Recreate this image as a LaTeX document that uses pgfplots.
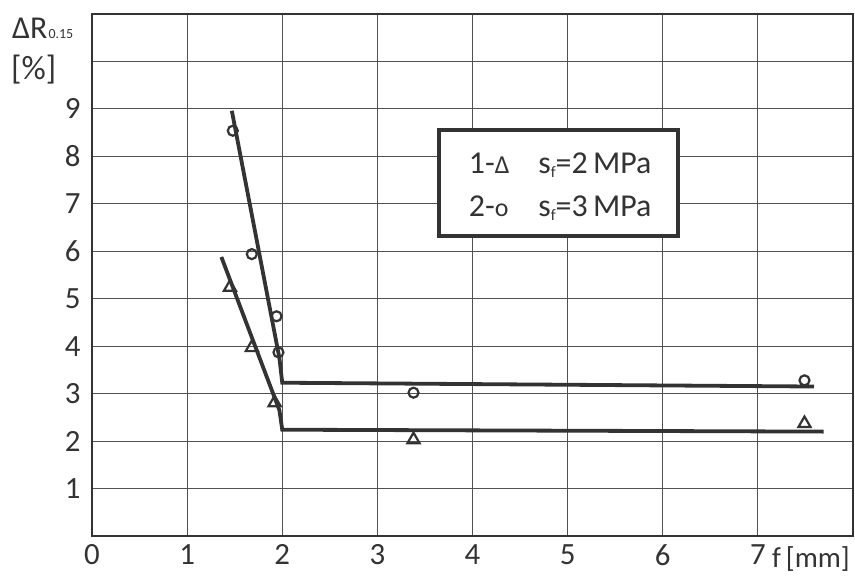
\documentclass[border=0pt]{standalone}
\usepackage{pgfplots}
\pgfplotsset{compat=1.18}
\usetikzlibrary{calc}
\usepackage{fontspec}
\setmainfont{Carlito}
\definecolor{ink}{HTML}{333333}
\begin{document}
\begin{tikzpicture}
\begin{axis}[
  scale only axis, width=761bp, height=522bp,
  xmin=0, xmax=8, ymin=0, ymax=11,
  xtick={0,1,2,3,4,5,6,7},
  ytick={1,2,3,4,5,6,7,8,9,10},
  yticklabels={1,2,3,4,5,6,7,8,9,{}},
  grid=major,
  major grid style={line width=1bp, color=ink!85},
  axis line style={line width=2.5bp, ink},
  major tick length=0pt,
  /pgf/number format/assume math mode=true,
  ticklabel style={font=\fontsize{31}{33}\selectfont, text=ink},
  yticklabel style={xshift=-8bp},
  xticklabel style={yshift=-5bp},
  clip=false,
]
% fitted lines
\addplot[line width=3.8bp, ink] coordinates {(1.47,8.96) (1.97,3.75) (2.0,3.23) (7.59,3.15)};
\addplot[line width=3.8bp, ink] coordinates {(1.36,5.88) (1.97,2.65) (2.0,2.24) (7.69,2.20)};
% series 2: circles
\addplot[only marks, mark=o, mark size=5bp, line width=2.2bp, ink] coordinates {
 (1.48,8.54) (1.68,5.94) (1.94,4.63) (1.96,3.87) (3.38,3.02) (7.49,3.28)};
% series 1: triangles
\addplot[only marks, mark=triangle, mark size=7bp, line width=2.2bp, ink] coordinates {
 (1.45,5.24) (1.68,3.97) (1.92,2.81) (3.38,2.03) (7.49,2.37)};
% legend box
\draw[line width=3.5bp, ink, fill=white] (axis cs:3.65,6.32) rectangle (axis cs:6.16,8.56);
\node[anchor=base west, text=ink, font=\fontsize{32}{34}\selectfont, inner sep=0pt] at (axis cs:3.96,7.63) {1-{\fontsize{26}{26}\selectfont Δ}};
\node[anchor=base west, text=ink, font=\fontsize{32}{34}\selectfont, inner sep=0pt] at (axis cs:3.96,6.74) {2-{\fontsize{26}{26}\selectfont o}};
\node[anchor=base west, text=ink, font=\fontsize{32}{34}\selectfont, inner sep=0pt] at (axis cs:4.69,7.63) {s\raisebox{-4bp}{\fontsize{16}{16}\selectfont f}=2\,MPa};
\node[anchor=base west, text=ink, font=\fontsize{32}{34}\selectfont, inner sep=0pt] at (axis cs:4.69,6.74) {s\raisebox{-4bp}{\fontsize{16}{16}\selectfont f}=3\,MPa};
\end{axis}
% axis labels
\node[anchor=base west, inner sep=0pt, text=ink, font=\fontsize{32}{34}\selectfont, xshift=-80bp, yshift=-25bp] at (current axis.north west) {ΔR\hspace{1bp}{\fontsize{14}{14}\selectfont 0.15}};
\node[anchor=base west, inner sep=0pt, text=ink, font=\fontsize{34}{36}\selectfont, xshift=-81bp, yshift=-66bp] at (current axis.north west) {[\%]};
\node[anchor=base east, inner sep=0pt, text=ink, font=\fontsize{29}{31}\selectfont, xshift=-3bp, yshift=-31bp] at (current axis.south east) {f\hspace{5bp}[mm]};
\path ($(current axis.south west)+(-92bp,-39bp)$) rectangle ($(current axis.north east)+(2bp,14bp)$);
\end{tikzpicture}
\end{document}
